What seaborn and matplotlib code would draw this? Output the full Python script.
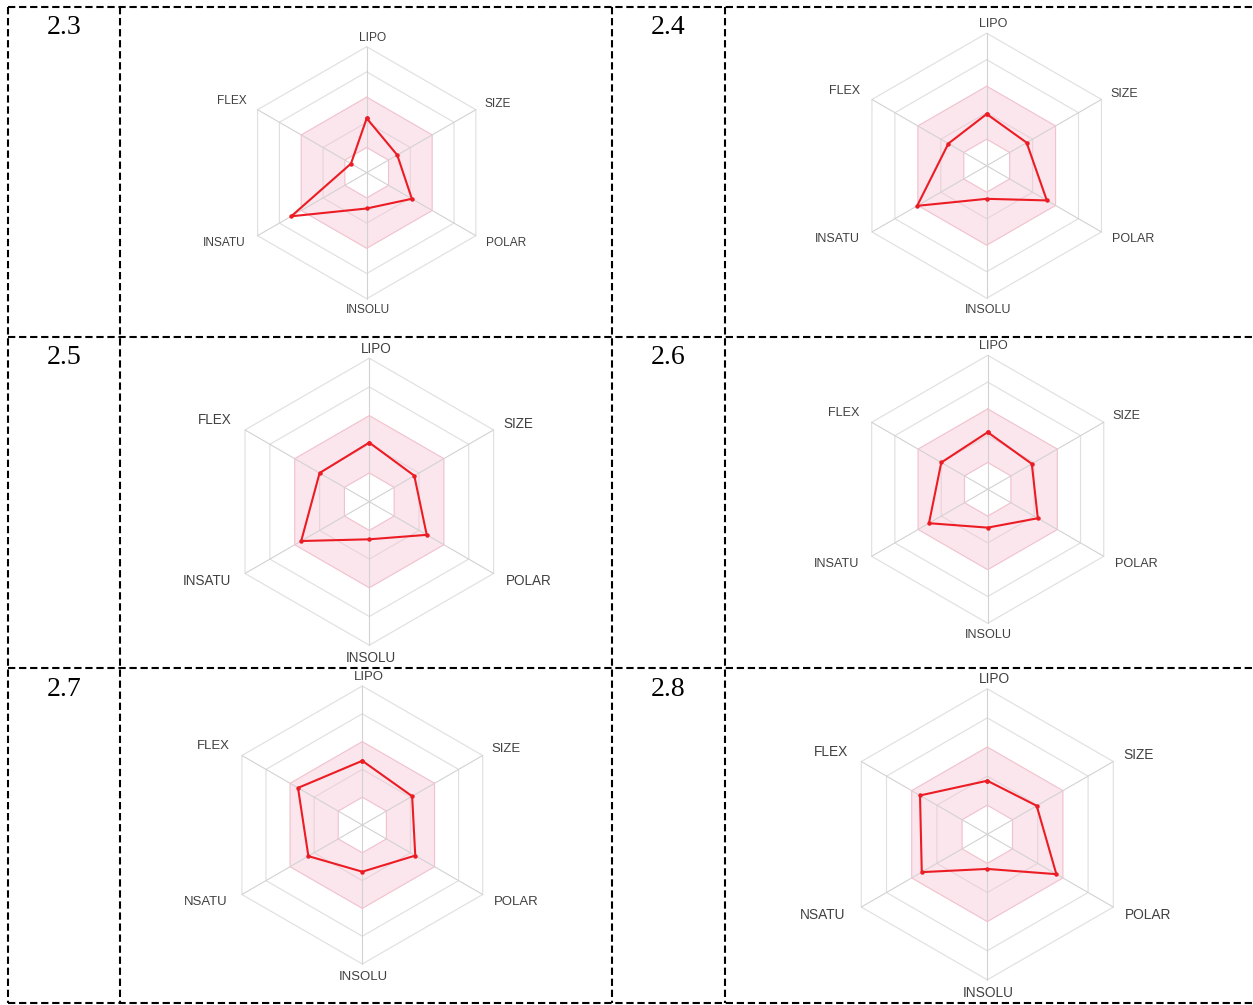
import numpy as np
import pandas as pd
import matplotlib
matplotlib.use("Agg")
import matplotlib.pyplot as plt
from matplotlib.lines import Line2D
import seaborn as sns

# ---- data -------------------------------------------------------------
compound_ids = ["2.3", "2.4", "2.5", "2.6", "2.7", "2.8"]
labels_insatu = ["LIPO", "SIZE", "POLAR", "INSOLU", "INSATU", "FLEX"]
labels_nsatu = ["LIPO", "SIZE", "POLAR", "INSOLU", "NSATU", "FLEX"]
panel_labels = [labels_insatu, labels_insatu, labels_insatu,
                labels_insatu, labels_nsatu, labels_nsatu]

# radial score of each property (rings at 1..5, optimal band 1..3)
lipo = [2.16, 1.95, 2.06, 2.13, 2.31, 1.84]
size = [1.40, 1.74, 1.81, 1.90, 2.07, 1.96]
polar = [2.07, 2.62, 2.31, 2.16, 2.20, 2.74]
insolu = [1.42, 1.25, 1.31, 1.43, 1.68, 1.19]
insatu = [3.46, 3.03, 2.74, 2.53, 2.24, 2.60]
flex = [0.72, 1.67, 2.00, 2.00, 2.67, 2.67]

ring_levels = [1, 2, 3, 4, 5]
band_inner, band_outer = 1, 3

# ---- layout (pixels) --------------------------------------------------
W, H, DPI = 1253, 1005, 100
col_x = [8, 120, 612, 725]
row_y = [7, 337, 668, 1003]
# radar centre (x, y) and pixel length of one ring step
radar_geom = [(366.7, 172.7, 25.2), (986.7, 165.7, 26.5),
              (369.3, 501.7, 28.7), (987.7, 489.3, 26.8),
              (362.3, 825.0, 27.8), (987.3, 834.3, 29.1)]
id_pos = [(64, 27), (668, 27), (64, 358), (668, 358), (64, 689), (668, 689)]

angles = np.deg2rad([90, 30, -30, -90, -150, 150])
label_offsets = [(0.23, 5.33), (5.18, 2.72), (5.54, -2.77),
                 (0.04, -5.45), (-5.65, -2.77), (-5.37, 2.83)]

sns.set_theme(style="white")
plt.rcParams["font.family"] = ["Liberation Sans", "DejaVu Sans"]

fig = plt.figure(figsize=(W / DPI, H / DPI), dpi=DPI)
fig.patch.set_facecolor("white")

RING = "#e0e0e0"
SPOKE = "#d2d2d2"
PINK = "#fce6ed"
PINK_EDGE = "#f0c3ce"
RED = "#ec1c24"


def hexagon(r):
    a = np.append(angles, angles[0])
    return r * np.cos(a), r * np.sin(a)


for i in range(6):
    cx, cy, u = radar_geom[i]
    R = 6.4
    ax = fig.add_axes([(cx - R * u) / W, 1 - (cy + R * u) / H,
                       2 * R * u / W, 2 * R * u / H])
    ax.set_xlim(-R, R)
    ax.set_ylim(-R, R)
    ax.set_aspect("equal")
    ax.axis("off")
    ax.patch.set_alpha(0)

    # optimal-range band
    hx, hy = hexagon(band_outer)
    ax.fill(hx, hy, color=PINK, lw=0, zorder=1)
    hx, hy = hexagon(band_inner)
    ax.fill(hx, hy, color="white", lw=0, zorder=1)

    for r in ring_levels:
        hx, hy = hexagon(r)
        if r in (band_inner, band_outer):
            col, z = PINK_EDGE, 3
        elif r == 2:
            col, z = "#e8d4da", 2
        else:
            col, z = RING, 2
        ax.plot(hx, hy, color=col, lw=0.85, zorder=z)

    for a in angles:
        ax.plot([0, 5 * np.cos(a)], [0, 5 * np.sin(a)], color=SPOKE,
                lw=0.8, zorder=2)

    vals = np.array([lipo[i], size[i], polar[i], insolu[i], insatu[i], flex[i]])
    closed = np.append(vals, vals[0])
    ang = np.append(angles, angles[0])
    df = pd.DataFrame({"x": closed * np.cos(ang), "y": closed * np.sin(ang)})
    sns.lineplot(data=df, x="x", y="y", sort=False, estimator=None, ax=ax,
                 color=RED, lw=1.5, marker="o", markersize=3.2,
                 markeredgewidth=0, zorder=5)
    ax.set_xlabel("")
    ax.set_ylabel("")

    fs = u * 0.34
    for lab, (ox, oy) in zip(panel_labels[i], label_offsets):
        ax.text(ox, oy, lab, ha="center", va="center", fontsize=fs,
                color="#404040", clip_on=False, zorder=6)

    tx, ty = id_pos[i]
    fig.text(tx / W, 1 - ty / H, compound_ids[i], ha="center", va="center",
             fontsize=20, family=["Liberation Serif", "DejaVu Serif"],
             color="black")

# dashed table grid
dash = dict(color="black", lw=1.5, linestyle=(0, (3.5, 1.8)))
for x in col_x:
    fig.add_artist(Line2D([x / W, x / W], [1 - row_y[0] / H, 1 - row_y[-1] / H],
                          transform=fig.transFigure, **dash))
for y in row_y:
    fig.add_artist(Line2D([col_x[0] / W, 1.0], [1 - y / H, 1 - y / H],
                          transform=fig.transFigure, **dash))

fig.savefig("out.png", dpi=DPI, facecolor="white")
